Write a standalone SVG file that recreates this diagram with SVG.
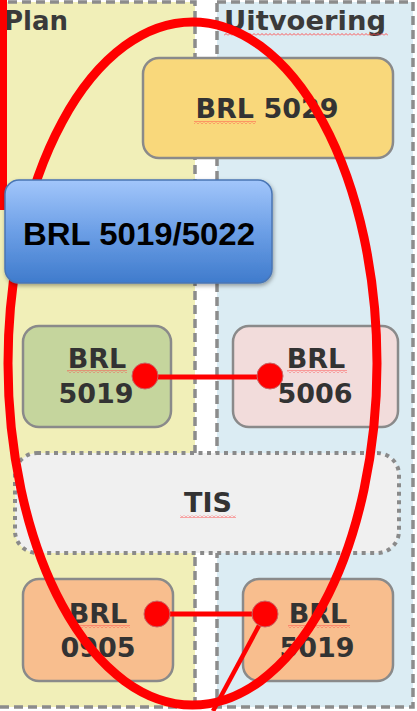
<svg xmlns="http://www.w3.org/2000/svg" width="417" height="711" viewBox="0 0 417 711">
<style>
.panel{stroke:#8c8c8c;stroke-width:3.5;stroke-dasharray:9 5}
.box{stroke:#8a8a8a;stroke-width:2.5}
.lbl{font-family:"DejaVu Sans",Verdana,sans-serif;font-weight:bold;font-size:27px;fill:#333;text-anchor:middle}
.hdr{font-family:"DejaVu Sans",Verdana,sans-serif;font-weight:bold;font-size:26px;fill:#3a3a3a}
.sq{fill:url(#squig)}
.red{stroke:#ff0000;fill:none}
.dot{fill:#ff0000;stroke:#c86464;stroke-width:1}
</style>
<defs>
<pattern id="squig" width="4" height="3" patternUnits="userSpaceOnUse">
<polyline points="0,2.5 2,0.5 4,2.5" fill="none" stroke="#ff4444" stroke-width="0.9"/>
</pattern>
<linearGradient id="blue" x1="0" y1="0" x2="0" y2="1">
<stop offset="0" stop-color="#a2c6fb"/>
<stop offset="0.5" stop-color="#6c9fe6"/>
<stop offset="1" stop-color="#3f7bcc"/>
</linearGradient>
<filter id="shadow" x="-10%" y="-10%" width="125%" height="130%">
<feDropShadow dx="1" dy="2" stdDeviation="2" flood-color="#000" flood-opacity="0.35"/>
</filter>
</defs>
<rect x="0" y="0" width="417" height="711" fill="#ffffff"/>
<g id="panel-plan">
<rect class="panel" x="-6" y="2" width="201" height="705" fill="#f1efb8"/>
<text class="hdr" x="4" y="30">Plan</text>
</g>
<g id="panel-uitvoering">
<rect class="panel" x="217" y="2" width="196" height="705" fill="#dbecf3"/>
<text class="hdr" x="224" y="30" textLength="162" lengthAdjust="spacingAndGlyphs">Uitvoering</text>
<rect class="sq" x="224" y="33" width="164" height="3"/>
</g>
<g id="brl5029">
<rect class="box" x="143" y="58" width="250" height="100" rx="16" fill="#f9d87b"/>
<text class="lbl" x="267" y="118">BRL 5029</text>
<rect class="sq" x="194" y="121" width="62" height="3"/>
</g>
<g id="brl5019-plan">
<rect class="box" x="23" y="326" width="148" height="101" rx="16" fill="#c5d59d"/>
<text class="lbl" x="97" y="368">BRL</text>
<text class="lbl" x="96" y="403">5019</text>
<rect class="sq" x="67" y="370" width="60" height="3"/>
</g>
<g id="brl5006">
<rect class="box" x="233" y="326" width="165" height="101" rx="16" fill="#f2dcdb"/>
<text class="lbl" x="316" y="368">BRL</text>
<text class="lbl" x="315" y="403">5006</text>
<rect class="sq" x="287" y="370" width="60" height="3"/>
</g>
<g id="tis">
<rect x="15" y="453" width="384" height="100" rx="22" fill="#f0f0f0" stroke="#8a8a8a" stroke-width="4" stroke-dasharray="4 4.5"/>
<text class="lbl" x="208" y="512">TIS</text>
<rect class="sq" x="180" y="515" width="56" height="3"/>
</g>
<g id="brl0905">
<rect class="box" x="23" y="579" width="150" height="102" rx="16" fill="#f8be8e"/>
<text class="lbl" x="98" y="623">BRL</text>
<text class="lbl" x="98" y="657">0905</text>
<rect class="sq" x="70" y="625" width="60" height="3"/>
</g>
<g id="brl5019-uitvoering">
<rect class="box" x="243" y="579" width="150" height="102" rx="16" fill="#f8be8e"/>
<text class="lbl" x="318" y="623">BRL</text>
<text class="lbl" x="317" y="657">5019</text>
<rect class="sq" x="288" y="625" width="62" height="3"/>
</g>
<g id="annotations">
<line class="red" x1="3.5" y1="0" x2="3.5" y2="210" stroke-width="7"/>
<ellipse class="red" cx="192.5" cy="363.5" rx="184.5" ry="341.5" stroke-width="9"/>
</g>
<g id="brl5019-5022">
<rect x="5" y="180" width="267" height="103" rx="14" fill="url(#blue)" stroke="#4a76b4" stroke-width="1.5" filter="url(#shadow)"/>
<text x="139" y="245" font-family="'Liberation Sans',Arial,sans-serif" font-weight="bold" font-size="32" fill="#000" text-anchor="middle" textLength="232" lengthAdjust="spacingAndGlyphs">BRL 5019/5022</text>
</g>
<g id="connectors">
<line class="red" x1="145" y1="377" x2="270" y2="377" stroke-width="5"/>
<line class="red" x1="156" y1="614" x2="265" y2="614" stroke-width="5"/>
<line class="red" x1="262" y1="620" x2="213" y2="711" stroke-width="4.5"/>
<circle class="dot" cx="145" cy="376" r="13"/>
<circle class="dot" cx="270" cy="376" r="13"/>
<circle class="dot" cx="157" cy="614" r="13"/>
<circle class="dot" cx="265" cy="614" r="13"/>
</g>
</svg>
